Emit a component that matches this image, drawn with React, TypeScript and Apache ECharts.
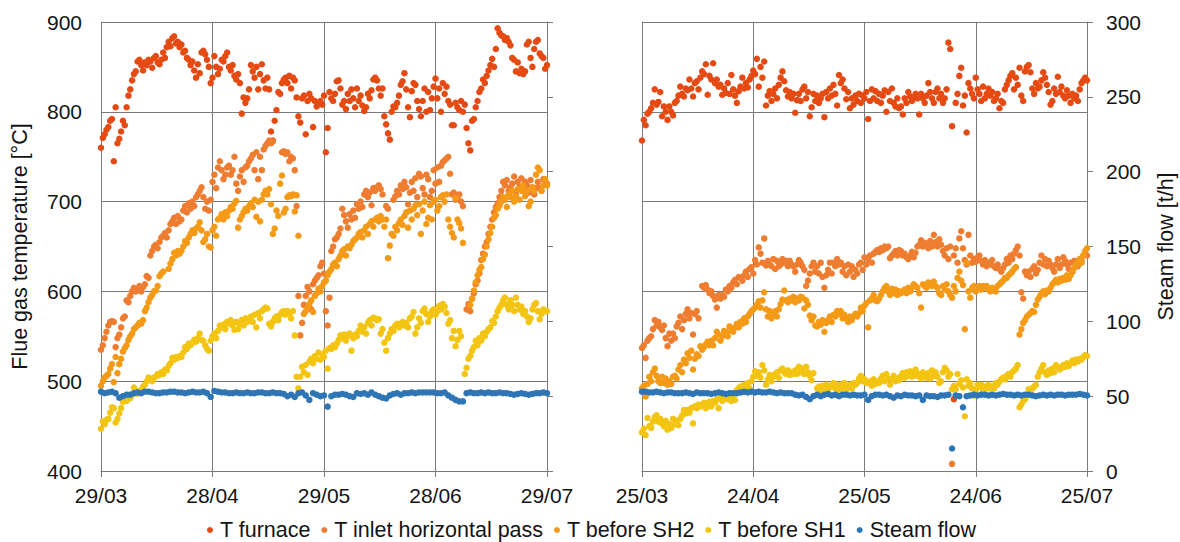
import React, { useEffect, useRef } from "react";
import * as echarts from "echarts";

const leftDates = ["29/03", "28/04", "29/05", "28/06", "29/07"];
const rightDates = ["25/03", "24/04", "25/05", "24/06", "25/07"];
const names = ["T furnace", "T inlet horizontal pass", "T before SH2", "T before SH1", "Steam flow"];
const colors = ["#E64A13", "#EE7D31", "#F49A17", "#F3C512", "#2E75B6"];

// half-day readings, one row per ten days
const leftFurnace = [
760,771,775,780,783,790,792,745,805,765,770,778,790,785,805,818,825,835,842,845,
856,858,852,846,855,852,858,856,849,860,862,855,853,858,866,860,872,878,873,882,
884,876,878,872,875,866,868,860,858,852,856,846,838,853,843,866,868,864,858,850,
832,838,862,850,842,848,858,856,862,866,850,846,852,840,836,842,832,798,816,810,
815,825,852,845,838,850,825,842,853,835,826,838,825,778,768,790,802,822,820,832,
836,838,832,840,826,838,835,816,795,788,815,818,775,812,820,815,783,812,806,810,
812,808,818,755,782,822,815,812,820,834,835,826,808,812,803,820,812,825,815,805,
826,812,818,807,801,805,820,815,824,836,838,835,826,818,826,795,786,776,769,800,
806,805,810,818,830,834,843,825,805,794,823,832,830,812,803,795,812,826,800,822,
802,815,828,837,815,826,800,832,820,828,812,808,785,785,810,805,802,812,800,808,
782,765,757,790,792,805,812,822,826,836,832,840,846,852,859,850,870,893,888,885,
884,880,882,878,874,860,858,845,855,843,848,842,845,875,878,860,850,870,878,880,
865,862,860,848,852];
const leftInlet = [
535,540,548,555,562,566,567,566,538,548,552,560,570,572,590,588,595,600,604,600,
602,606,600,605,608,617,615,640,645,650,652,648,655,660,662,665,660,668,675,678,
682,675,684,678,680,690,695,688,698,692,700,695,705,708,712,716,705,692,700,690,
702,722,730,715,738,745,735,725,730,738,740,730,735,750,720,712,728,735,722,738,
740,745,748,752,735,755,725,750,735,758,762,765,768,765,767,null,null,null,null,755,
756,753,755,745,750,748,735,695,595,551,565,585,595,605,600,580,608,612,615,618,
628,632,620,578,562,593,645,650,658,660,664,670,692,685,678,671,686,680,690,682,
697,692,700,694,708,712,705,710,696,715,712,716,718,714,708,null,695,692,null,null,
702,706,712,708,718,714,722,716,697,710,722,712,726,705,731,728,715,708,730,725,
705,712,735,720,738,722,740,744,746,748,750,731,708,710,702,705,708,700,695,null,
580,586,578,592,598,608,612,620,635,642,650,655,664,672,680,688,694,698,705,712,
722,718,724,712,716,720,728,708,722,716,726,712,722,718,710,724,716,708,715,722,
715,712,725,722,720];
const leftSh2 = [
495,500,504,506,508,514,519,499,527,509,519,525,533,537,540,546,550,553,558,560,
562,565,564,568,578,582,588,593,596,600,601,606,617,620,622,null,null,625,631,636,
643,640,645,642,645,650,656,654,660,664,668,665,670,672,677,668,655,658,664,650,
649,668,672,662,680,682,686,680,688,684,690,694,692,698,701,671,680,684,688,692,
690,695,698,694,702,683,700,678,702,708,712,708,714,697,664,670,690,684,720,729,
688,692,705,707,706,708,689,707,662,null,null,575,578,582,586,590,577,595,598,603,
600,606,610,612,618,622,625,630,632,628,636,640,645,647,640,650,648,652,656,658,
660,664,666,660,668,672,664,675,678,672,680,682,678,684,680,672,680,637,651,664,
662,672,668,676,680,674,684,688,671,690,680,692,696,685,697,664,690,700,675,682,
696,680,700,702,690,695,705,707,700,708,680,672,665,660,704,680,676,670,654,null,
null,null,585,592,601,610,618,624,627,636,641,650,658,665,672,682,685,692,696,700,
705,702,694,708,705,712,700,706,714,702,712,718,706,712,695,700,716,712,730,738,
735,712,718,725,718];
const leftSh1 = [
447,455,452,457,458,465,471,470,454,458,464,470,477,480,478,482,481,485,493,490,
486,488,490,494,496,500,504,503,500,504,505,508,507,510,508,513,512,517,520,526,
524,527,526,528,527,532,538,536,542,540,543,546,544,548,553,546,545,540,536,534,
545,550,553,548,556,562,560,563,558,566,564,568,562,557,566,558,564,568,562,570,
566,570,572,566,574,560,576,570,578,580,582,581,564,561,566,570,572,568,574,577,
578,574,578,576,570,578,551,505,492,505,516,510,518,507,522,525,520,528,525,532,
524,530,527,534,514,537,536,540,538,542,546,551,548,552,545,550,553,534,548,552,
550,556,562,555,560,553,565,568,562,571,570,568,569,553,558,543,534,548,553,558,
556,562,564,560,564,566,562,565,560,570,572,577,553,560,570,565,578,581,575,566,
572,578,580,574,578,584,580,586,583,576,564,568,548,556,539,546,556,550,null,508,
515,525,528,534,538,545,540,548,545,553,550,555,558,560,567,565,572,578,582,585,
590,593,585,580,590,585,578,593,585,580,583,575,578,572,566,570,580,585,587,578,
569,575,580,578,578];
// one reading per day
const leftSteam = [
53,52,52.5,53,52,49,50,51,51,52,
52.5,52,53,53,52.5,52,52,52.5,52.5,53,
53,52.5,52.5,52,52.5,53,52.5,52.5,53,52,
49.5,53.5,53,52.5,52.5,52,52,52.5,52,52,
52.5,52,52,52.5,52.5,52,52,52.5,52,52,
51.5,50,51,49.5,52,52.5,50.5,47.5,52,51,
50,50.5,43,50,51,51,51.5,51,50,49.5,
52,51.5,52,51,52.5,51,50,49,48.5,50.5,
51.5,52,51,52,52,52.5,52,52.5,52.5,52.5,
52.5,52.5,52,52,52.5,50.5,49,47.5,46.5,46.5,
52,52.5,52,52,52.5,52,52.5,52,52,52.5,
52,52,51.5,51,51.5,52,51.5,51,51.5,52,
52,52.5,52];

const rightFurnace = [
768,791,785,798,800,804,810,825,808,811,822,795,806,800,791,806,800,796,810,812,
818,828,820,817,826,824,836,826,817,832,834,825,838,845,842,853,819,840,836,854,
832,836,828,830,819,826,821,832,820,841,825,818,810,823,828,838,826,832,827,836,
840,846,842,859,828,850,838,856,807,818,823,812,820,826,815,830,838,845,834,824,
817,822,815,820,799,813,820,812,825,828,815,822,795,805,820,812,818,810,815,820,
794,822,815,826,818,830,820,807,841,832,836,826,814,822,804,815,808,818,812,820,
810,818,815,822,792,812,825,815,823,812,820,810,818,824,800,822,812,826,810,806,
815,804,806,797,815,810,822,817,812,816,820,815,797,820,815,810,818,832,822,815,
810,822,826,815,820,810,815,825,877,870,784,480,810,820,840,849,807,818,777,832,
826,820,815,838,825,820,812,828,815,820,826,818,822,812,815,820,804,812,810,825,
830,835,840,843,825,838,830,849,818,812,845,850,852,844,826,820,832,826,828,835,
844,838,830,822,808,812,826,820,839,822,828,818,815,824,818,810,820,815,818,812,
825,832,835,838,835];
const rightInlet = [
537,540,526,545,548,550,558,568,562,566,560,557,562,548,539,553,545,553,548,561,
565,572,558,568,575,580,570,576,552,575,578,570,null,606,604,607,602,598,600,595,
591,582,596,592,596,594,602,600,606,604,610,613,608,616,615,612,618,622,616,625,
627,620,635,630,649,642,632,659,629,634,630,628,636,625,634,628,630,636,632,634,
628,634,630,628,622,630,635,632,628,624,606,612,620,628,632,622,628,620,632,616,
604,618,624,632,620,632,628,636,630,632,622,628,618,630,622,628,616,624,620,630,
632,624,638,630,636,640,632,642,644,646,644,648,646,650,648,650,637,640,642,645,
640,646,645,640,642,638,636,640,644,638,643,650,652,657,650,654,652,648,656,650,
663,655,650,658,652,645,640,648,636,650,408,640,648,632,659,667,648,635,630,663,
640,632,636,633,638,640,634,630,635,628,632,630,635,628,626,630,625,622,626,630,
636,632,640,636,642,646,650,640,599,592,622,618,622,616,625,628,620,624,632,640,
630,636,628,634,630,626,622,630,636,626,630,638,634,630,625,632,622,634,630,628,
636,634,640,642,640];
const rightSh2 = [
492,495,483,497,505,500,510,514,506,500,498,505,498,503,496,500,497,505,506,503,
513,518,510,524,520,531,526,534,513,525,530,528,539,535,538,541,544,540,545,540,
548,555,552,545,550,556,555,550,561,556,555,560,564,560,566,564,570,566,572,575,
578,580,582,585,589,582,590,599,580,572,578,570,574,578,572,580,586,591,601,590,
588,592,590,594,588,592,590,594,593,581,590,585,573,568,572,562,561,566,563,568,
555,565,568,572,566,574,572,578,575,578,570,574,570,566,572,568,572,575,572,576,
582,578,584,587,560,590,592,596,590,589,592,596,600,604,606,600,596,603,598,602,
596,600,598,600,602,598,604,600,604,608,606,604,598,582,608,606,604,610,608,606,
611,606,604,598,596,606,602,608,600,596,593,606,600,615,622,612,607,558,632,600,
593,604,606,600,604,606,602,606,604,606,602,600,604,602,600,606,608,610,612,615,
615,618,620,622,625,627,null,552,558,565,568,572,574,576,578,577,585,591,594,598,
600,597,601,600,604,608,610,613,610,614,612,615,613,618,614,618,622,626,630,632,
636,632,640,645,648];
const rightSh1 = [
443,447,440,459,450,448,455,460,462,455,458,453,450,456,446,452,448,458,452,456,
451,458,462,468,464,468,465,470,453,472,470,474,472,474,476,470,475,477,472,478,
476,480,470,481,478,482,484,480,482,478,483,479,490,492,494,488,496,494,498,492,
500,505,511,506,510,504,518,512,496,502,507,500,505,508,510,504,512,514,510,508,
512,507,510,508,512,508,516,510,514,508,516,510,506,501,509,null,492,494,490,495,
492,496,490,495,494,498,492,496,490,496,492,498,490,494,496,492,498,496,498,503,
506,500,502,498,498,500,495,502,497,500,498,503,506,500,508,503,496,502,506,500,
503,501,506,509,504,510,506,511,505,510,513,506,508,503,510,506,504,509,503,512,
506,510,505,498,500,510,515,512,505,508,491,495,491,508,497,501,493,461,502,495,
498,492,484,490,496,494,496,490,494,492,496,492,494,492,498,496,500,502,504,502,
506,508,505,510,512,514,518,471,474,478,480,484,491,486,492,494,496,505,510,514,
518,510,507,512,509,514,510,518,516,513,515,518,516,520,517,520,523,520,524,522,
525,524,527,529,528];
const rightSteam = [
53,53,52.5,52.5,53,52.5,52,52.5,52.5,52,
52,52,52.5,52,51.5,52.5,52,52,52,51.5,
52,52.5,52,51.5,52,52,52,52.5,53,52.5,
53,52.5,53,52.5,52.5,53,52.5,52,52.5,52,
52,52,51,50.5,51,49.5,48,50,51,50,
51,51.5,50.5,51,50,51,51,50.5,51,50.5,
50.5,51,47.5,50,51,51,50.5,51,50,49,
50.5,50,51,50.5,50.5,50,50.5,47.5,50.5,50,
50,49.5,50.5,50.5,51,15,50.5,50,42.6,50,
50.5,51,50.5,51,51,50.5,51,50.5,51,51.5,
51,51,50.5,51,50.5,51,51,50.5,50,50.5,
51,50.5,51,50.5,51,51,50.5,51,51,51,
51.5,51,50.5];

const FONT = "'Liberation Sans', Arial, sans-serif";
const INK = "#141414";
const LINE = "#7a7a7a";

function points(values: (number | null)[], step: number) {
  const out: number[][] = [];
  values.forEach((v, i) => {
    if (v !== null) out.push([i * step, v]);
  });
  return out;
}

function xAxis(gridIndex: number, labels: string[]) {
  return {
    type: "value",
    gridIndex,
    min: 0,
    max: 122,
    interval: 30.5,
    axisLine: { show: true, onZero: false, lineStyle: { color: LINE } },
    axisTick: { show: true, length: 6, lineStyle: { color: LINE } },
    splitLine: { show: true, lineStyle: { color: LINE, width: 1 } },
    axisLabel: {
      color: INK,
      fontFamily: FONT,
      fontSize: 21,
      margin: 14,
      hideOverlap: false,
      showMinLabel: true,
      showMaxLabel: true,
      formatter: (v: number) => labels[Math.round(v / 30.5)] ?? "",
    },
  };
}

function tempAxis(gridIndex: number, labelled: boolean) {
  return {
    type: "value",
    gridIndex,
    position: "left",
    min: 400,
    max: 900,
    interval: 100,
    axisLine: { show: true, onZero: false, lineStyle: { color: LINE } },
    axisTick: { show: false },
    splitLine: { show: true, lineStyle: { color: LINE, width: 1 } },
    axisLabel: { show: labelled, color: INK, fontFamily: FONT, fontSize: 21, margin: 19 },
    ...(labelled
      ? {
          name: "Flue gas temperature [°C]",
          nameLocation: "middle",
          nameGap: 70,
          nameTextStyle: { color: INK, fontFamily: FONT, fontSize: 21.5 },
        }
      : {}),
  };
}

function steamAxis(gridIndex: number, labelled: boolean) {
  return {
    type: "value",
    gridIndex,
    position: "right",
    min: 0,
    max: 300,
    interval: 50,
    axisLine: { show: true, onZero: false, lineStyle: { color: LINE } },
    axisTick: { show: true, length: 6, lineStyle: { color: LINE } },
    splitLine: { show: false },
    axisLabel: { show: labelled, color: INK, fontFamily: FONT, fontSize: 21, margin: 19 },
    ...(labelled
      ? {
          name: "Steam flow [t/h]",
          nameLocation: "middle",
          nameGap: 68,
          nameTextStyle: { color: INK, fontFamily: FONT, fontSize: 21.5 },
        }
      : {}),
  };
}

function dots(i: number, data: number[][], xAxisIndex: number, yAxisIndex: number) {
  return {
    type: "scatter",
    name: names[i],
    data,
    xAxisIndex,
    yAxisIndex,
    symbol: "circle",
    symbolSize: 6.5,
    clip: false,
    itemStyle: { color: colors[i], opacity: 1 },
    emphasis: { disabled: true },
  };
}

export default function App() {
  const ref = useRef<HTMLDivElement>(null);
  useEffect(() => {
    document.body.style.margin = "0";
    const chart = echarts.init(ref.current!, undefined, { renderer: "svg" });
    chart.setOption({
      animation: false,
      backgroundColor: "#ffffff",
      grid: [
        { left: 101, top: 22, width: 446, height: 449 },
        { left: 642, top: 22, width: 445, height: 449 },
      ],
      xAxis: [xAxis(0, leftDates), xAxis(1, rightDates)],
      yAxis: [tempAxis(0, true), steamAxis(0, false), tempAxis(1, false), steamAxis(1, true)],
      legend: {
        data: names.map((name) => ({ name, icon: "circle" })),
        left: 202,
        top: 514,
        itemWidth: 6,
        itemHeight: 6,
        itemGap: 10.5,
        textStyle: { color: INK, fontFamily: FONT, fontSize: 21.5, padding: [0, 0, 0, 2] },
      },
      series: [
        dots(0, points(leftFurnace, 0.5), 0, 0),
        dots(1, points(leftInlet, 0.5), 0, 0),
        dots(2, points(leftSh2, 0.5), 0, 0),
        dots(3, points(leftSh1, 0.5), 0, 0),
        dots(4, points(leftSteam, 1), 0, 1),
        dots(0, points(rightFurnace, 0.5), 1, 2),
        dots(1, points(rightInlet, 0.5), 1, 2),
        dots(2, points(rightSh2, 0.5), 1, 2),
        dots(3, points(rightSh1, 0.5), 1, 2),
        dots(4, points(rightSteam, 1), 1, 3),
      ],
    });
    return () => chart.dispose();
  }, []);
  return <div ref={ref} style={{ width: 1180, height: 542 }} />;
}
